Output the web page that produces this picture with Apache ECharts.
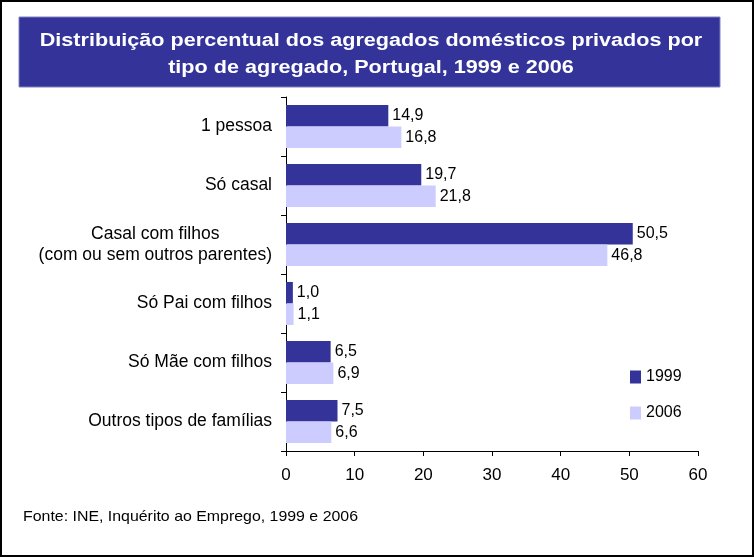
<!DOCTYPE html>
<html><head><meta charset="utf-8">
<script src="https://cdn.jsdelivr.net/npm/echarts@6/dist/echarts.min.js"></script>
<style>html,body{margin:0;padding:0;background:#fff}#c{width:754px;height:557px}</style>
</head><body><div id="c"></div>
<script>
const categories = ['1 pessoa', 'Só casal', 'Casal com filhos\n(com ou sem outros parentes)', 'Só Pai com filhos', 'Só Mãe com filhos', 'Outros tipos de famílias'];
const values1999 = [14.9, 19.7, 50.5, 1.0, 6.5, 7.5];
const values2006 = [16.8, 21.8, 46.8, 1.1, 6.9, 6.6];
const seriesNames = ['1999', '2006'];
const xTicks = [0, 10, 20, 30, 40, 50, 60];
const titleLines = ['Distribuição percentual dos agregados domésticos privados por', 'tipo de agregado, Portugal, 1999 e 2006'];
const sourceText = 'Fonte: INE, Inquérito ao Emprego, 1999 e 2006';

const chart = echarts.init(document.getElementById('c'), null, {renderer: 'canvas'});
const fmt = p => p.value.toFixed(1).replace('.', ',');
const font = 'Liberation Sans, Arial, sans-serif';
chart.setOption({
  animation: false,
  textStyle: {fontFamily: font},
  graphic: [
    {type: 'rect', shape: {x: 1, y: 1, width: 752, height: 555}, style: {fill: 'none', stroke: '#000', lineWidth: 2}},
    {type: 'rect', shape: {x: 19, y: 17, width: 701, height: 70}, style: {fill: '#333399', stroke: '#8080c0', lineWidth: 1}},
    {type: 'text', x: 371, y: 41, scaleX: 1.2, scaleY: 1.05, style: {text: titleLines[0], fill: '#fff', font: 'bold 18px "Liberation Sans", Arial', textAlign: 'center', textVerticalAlign: 'middle'}},
    {type: 'text', x: 371, y: 68, scaleX: 1.2, scaleY: 1.05, style: {text: titleLines[1], fill: '#fff', font: 'bold 18px "Liberation Sans", Arial', textAlign: 'center', textVerticalAlign: 'middle'}},
    {type: 'text', x: 23, y: 517, scaleX: 1.06, style: {text: sourceText, fill: '#000', font: '15px "Liberation Sans", Arial', textAlign: 'left', textVerticalAlign: 'middle'}}
  ],
  legend: {
    data: seriesNames, orient: 'vertical', left: 625, top: 364, itemWidth: 11, itemHeight: 13, itemGap: 20,
    icon: 'rect', textStyle: {fontSize: 16, color: '#000', fontFamily: font}
  },
  grid: {left: 286, right: 56, top: 97, bottom: 106, containLabel: false},
  xAxis: {
    type: 'value', min: 0, max: 60, interval: 10,
    axisLine: {show: true, lineStyle: {color: '#000'}},
    axisTick: {show: true, length: 5, lineStyle: {color: '#000'}},
    splitLine: {show: false},
    axisLabel: {fontSize: 17, color: '#000', margin: 16, formatter: v => xTicks.includes(v) ? String(v) : ''}
  },
  yAxis: {
    type: 'category', data: categories, inverse: true,
    axisLine: {lineStyle: {color: '#000'}},
    axisTick: {show: true, length: 5, lineStyle: {color: '#000'}},
    axisLabel: {
      fontSize: 17.5, color: '#000', margin: 14, lineHeight: 21,
      formatter: v => v.split('\n').map(s => '{c|' + s + '}').join('\n'),
      rich: {c: {align: 'center', fontSize: 17.5, color: '#000', lineHeight: 21}}
    }
  },
  series: [
    {name: seriesNames[0], type: 'bar', data: values1999, barGap: '0%', barCategoryGap: '27%',
     itemStyle: {color: '#333399'},
     label: {show: true, position: 'right', distance: 4, fontSize: 16, color: '#000', formatter: fmt}},
    {name: seriesNames[1], type: 'bar', data: values2006, barGap: '0%', barCategoryGap: '27%',
     itemStyle: {color: '#ccccff'},
     label: {show: true, position: 'right', distance: 4, fontSize: 16, color: '#000', formatter: fmt}}
  ]
});
</script></body></html>
